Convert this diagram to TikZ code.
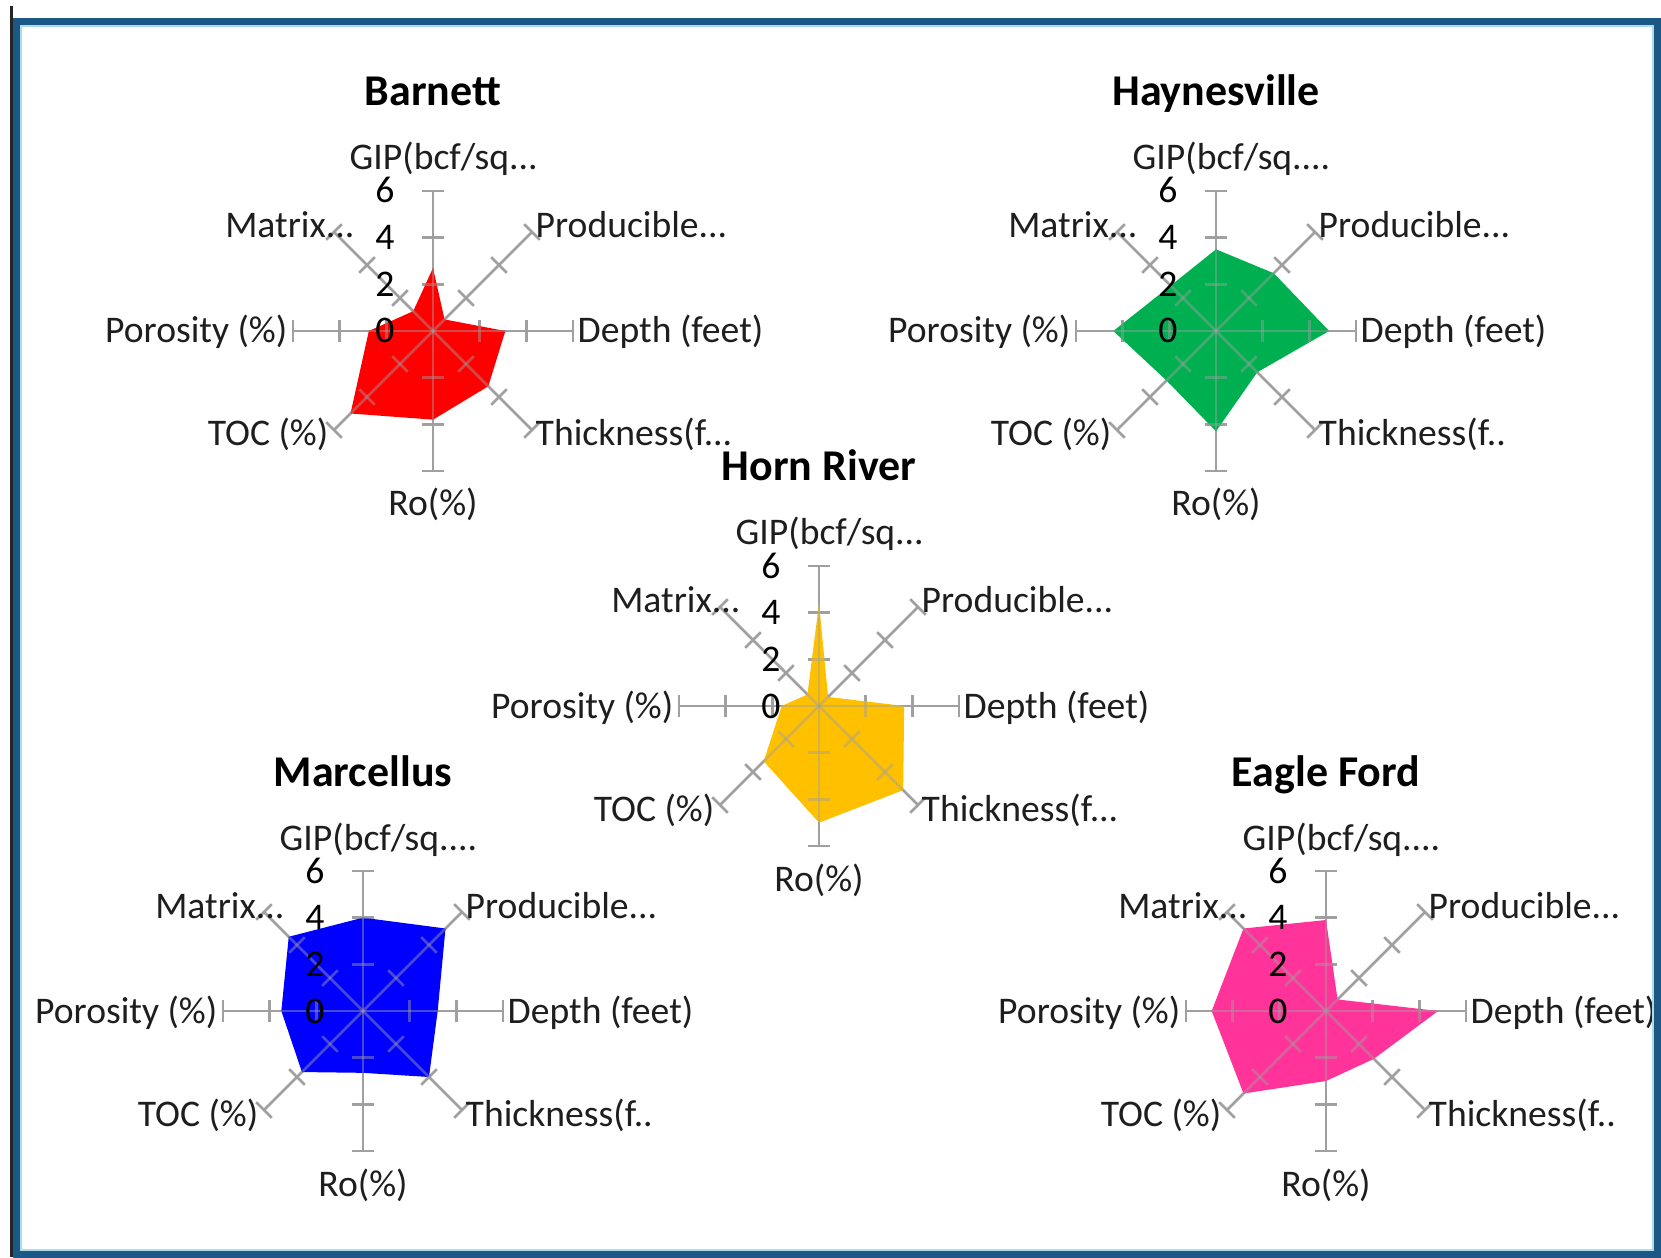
\documentclass[tikz,border=0pt]{standalone}
\usepackage{fontspec}
\setmainfont{Carlito}
\definecolor{axisgray}{RGB}{160,160,160}
\definecolor{labelcol}{RGB}{30,30,30}
\definecolor{barnettred}{RGB}{255,0,0}
\definecolor{haygreen}{RGB}{0,176,80}
\definecolor{hornyellow}{RGB}{255,192,0}
\definecolor{marcblue}{RGB}{0,0,255}
\definecolor{eaglepink}{RGB}{255,51,153}
\definecolor{framebl}{RGB}{28,88,134}
\definecolor{framelt}{RGB}{170,220,235}
\tikzset{
  axisline/.style={draw=axisgray, line width=0.027cm},
  axlabel/.style={inner sep=0pt, text=labelcol, font=\fontsize{10.7pt}{12pt}\selectfont},
  numlabel/.style={inner sep=0pt, text=black, font=\fontsize{10.7pt}{12pt}\selectfont},
  charttitle/.style={inner sep=0pt, text=black, font=\bfseries\fontsize{12.5pt}{14pt}\selectfont},
}
\newcommand\radaraxes[1][]{%
  \foreach \ang in {90,45,0,-45,-90,-135,180,135}{%
    \begin{scope}[rotate=\ang]
      \draw[axisline,#1] (0,0) -- (140,0);
      \foreach \rr in {46.667,93.333,140}{\draw[axisline,#1] (\rr,-11) -- (\rr,11);}
    \end{scope}}}
\def\parsevals#1,#2,#3,#4,#5,#6,#7,#8\relax{\def\va{#1}\def\vb{#2}\def\vc{#3}\def\vd{#4}\def\ve{#5}\def\vf{#6}\def\vg{#7}\def\vh{#8}}
% #1 prefix, #2 centre, #3 title, #4 colour, #5 GIP label, #6 thickness label, #7 values
\newcommand\radarchart[7]{%
  \parsevals#7\relax
  \begin{scope}[shift={#2}]
    \radaraxes
    \def\polypath{(90:{\va*23.333}) -- (45:{\vb*23.333}) -- (0:{\vc*23.333}) -- (-45:{\vd*23.333}) -- (-90:{\ve*23.333}) -- (-135:{\vf*23.333}) -- (180:{\vg*23.333}) -- (135:{\vh*23.333}) -- cycle}
    \fill[#4] \polypath;
    \begin{scope}
      \clip \polypath;
      \radaraxes[opacity=0.45]
    \end{scope}
    \node[axlabel, anchor=base west] (#1-gip) at (-84,161) {#5};
    \node[axlabel, anchor=base west] (#1-prod) at (102,93) {Producible...};
    \node[axlabel, anchor=base west] (#1-depth) at (144,-12) {Depth (feet)};
    \node[axlabel, anchor=base west] (#1-thick) at (102,-115) {#6};
    \node[axlabel, anchor=base] (#1-ro) at (0,-185) {Ro(\%)};
    \node[axlabel, anchor=base east] (#1-toc) at (-104,-115) {TOC (\%)};
    \node[axlabel, anchor=base east] (#1-por) at (-145,-12) {Porosity (\%)};
    \node[axlabel, anchor=base east] (#1-mat) at (-78,93) {Matrix...};
    \node[numlabel, anchor=base] (#1-n0) at (-48,-12) {0};
    \node[numlabel, anchor=base] (#1-n2) at (-48,34.7) {2};
    \node[numlabel, anchor=base] (#1-n4) at (-48,81.3) {4};
    \node[numlabel, anchor=base] (#1-n6) at (-48,128) {6};
    \node[charttitle, anchor=base] (#1-title) at (0,225) {#3};
  \end{scope}}
\begin{document}
\begin{tikzpicture}[x=0.01cm, y=0.01cm]
  \useasboundingbox (0,0) rectangle (1661,1257);
  \fill[white] (0,0) rectangle (1661,1257);
  \radarchart{bar}{(433,926)}{Barnett}{barnettred}{GIP(bcf/sq...}{Thickness(f...}{2.7,0.7,3.1,3.35,3.8,5.0,2.75,1.2}
  \radarchart{hay}{(1216,926)}{Haynesville}{haygreen}{GIP(bcf/sq....}{Thickness(f..}{3.5,3.5,4.85,2.5,4.3,3.0,4.4,2.75}
  \radarchart{hor}{(819,551)}{Horn River}{hornyellow}{GIP(bcf/sq...}{Thickness(f...}{4.4,0.55,3.65,5.1,5.0,3.35,1.6,0.7}
  \radarchart{mar}{(363,246)}{Marcellus}{marcblue}{GIP(bcf/sq....}{Thickness(f..}{4.0,5.0,3.2,4.0,2.65,3.7,3.5,4.5}
  \radarchart{eag}{(1326,246)}{Eagle Ford}{eaglepink}{GIP(bcf/sq....}{Thickness(f..}{3.9,0.7,4.8,2.9,3.0,5.0,4.9,5.0}
  % frame
  \draw[framelt, line width=0.015cm] (21,7) rectangle (1653,1231);
  \draw[framebl, line width=0.07cm] (16.5,2.5) rectangle (1657.5,1235.5);
  \draw[black!85, line width=0.03cm] (11.5,0) -- (11.5,1251);
\end{tikzpicture}
\end{document}
